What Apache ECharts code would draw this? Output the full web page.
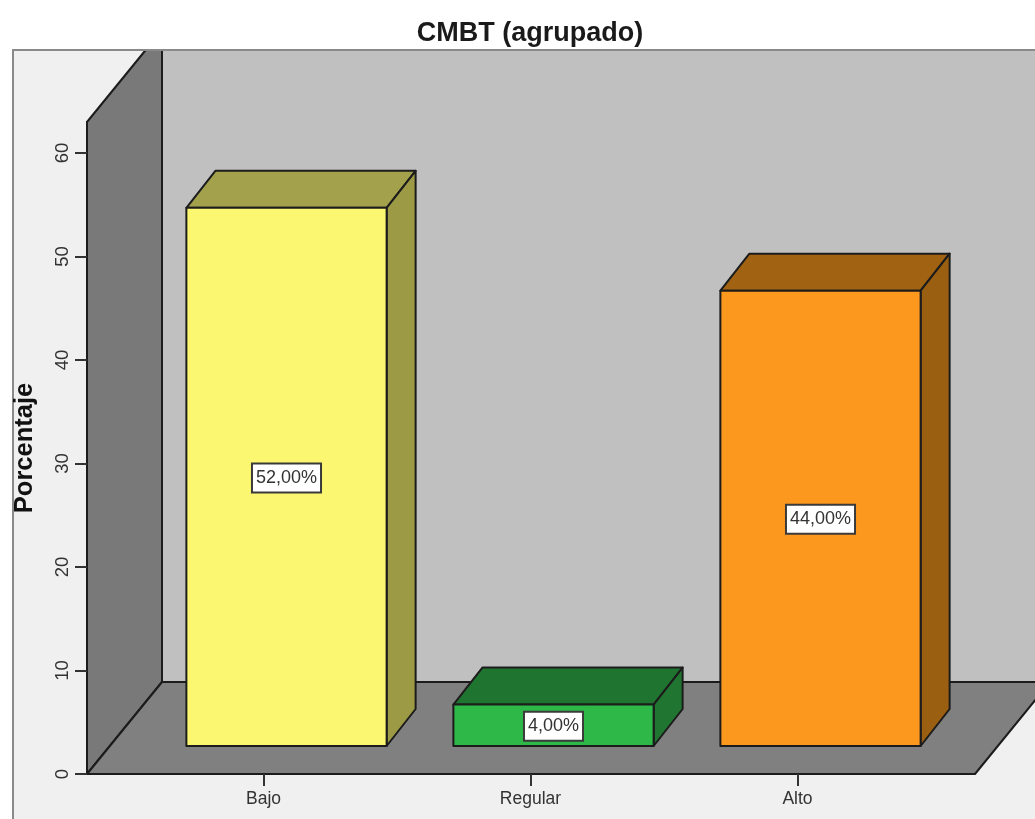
<!DOCTYPE html>
<html>
<head>
<meta charset="utf-8">
<title>CMBT (agrupado)</title>
<style>
    html, body { margin: 0; padding: 0; background: #fff; }
    #myChart { width: 1035px; height: 819px; }
</style>
<script src="https://cdn.jsdelivr.net/npm/echarts@6/dist/echarts.min.js"></script>
</head>
<body>
<div id="myChart"></div>
<script>
    var categories = ['Bajo', 'Regular', 'Alto'];
    var percentages = [52, 4, 44];
    var yTicks = [0, 10, 20, 30, 40, 50, 60];

    var frontColors = ['#fcf770', '#2eb848', '#fc981e'];
    var topColors = ['#a3a14c', '#1f7530', '#a16212'];
    var sideColors = ['#9c9a45', '#207630', '#9a5f10'];

    var lineColor = '#1c1c1c';
    var font = '"Liberation Sans", Arial, sans-serif';

    // 3d look: how far the floor goes back, and where the bars stand on it
    var floorDepth = [75, -92];
    var barOffset = [23, -28];
    var barDepth = [29, -37];

    function poly(points, fill) {
        return {
            type: 'polygon',
            shape: {points: points},
            style: {fill: fill, stroke: lineColor, lineWidth: 2, lineJoin: 'round'}
        };
    }

    function renderScene(params, api) {
        var left = api.coord([0, 0])[0] - api.size([1, 0])[0] / 2 - 43;
        var bottom = api.coord([0, 0])[1];
        var backX = left + floorDepth[0];
        var backY = bottom + floorDepth[1];
        var top = 50;
        var right = 1045;
        var frontRight = 975;
        var axisTop = api.coord([0, 63])[1];
        var slope = floorDepth[0] / -floorDepth[1];
        return {
            type: 'group',
            children: [
                // back wall
                poly([[backX, top], [right, top], [right, backY], [backX, backY]], '#c0c0c0'),
                // left wall
                poly([[left, bottom], [backX, backY], [backX, top], [left + (axisTop - top) * slope, top], [left, axisTop]], '#797979'),
                // floor
                poly([[left, bottom], [frontRight, bottom], [right, bottom - (right - frontRight) / slope], [right, backY], [backX, backY]], '#808080')
            ]
        };
    }

    function renderBar(params, api) {
        var i = api.value(0);
        var value = api.value(1);
        var width = api.size([1, 0])[0] * 0.75;
        var topPt = api.coord([i, value]);
        var basePt = api.coord([i, 0]);
        var x0 = topPt[0] + barOffset[0] - width / 2;
        var x1 = x0 + width;
        var y0 = topPt[1] + barOffset[1];
        var y1 = basePt[1] + barOffset[1];
        var dx = barDepth[0];
        var dy = barDepth[1];
        return {
            type: 'group',
            children: [
                poly([[x0, y0], [x0 + dx, y0 + dy], [x1 + dx, y0 + dy], [x1, y0]], topColors[i]),
                poly([[x1, y0], [x1 + dx, y0 + dy], [x1 + dx, y1 + dy], [x1, y1]], sideColors[i]),
                poly([[x0, y0], [x1, y0], [x1, y1], [x0, y1]], frontColors[i]),
                {
                    type: 'text',
                    z2: 10,
                    style: {
                        x: (x0 + x1) / 2,
                        y: (y0 + y1) / 2 + 1,
                        text: value.toFixed(2).replace('.', ',') + '%',
                        align: 'center',
                        verticalAlign: 'middle',
                        fill: '#333',
                        font: '18px ' + font,
                        backgroundColor: '#fff',
                        borderColor: '#3a3a3a',
                        borderWidth: 2,
                        padding: [5, 3, 4, 3]
                    }
                }
            ]
        };
    }

    var myChart = echarts.init(document.getElementById('myChart'));
    myChart.setOption({
        animation: false,
        backgroundColor: '#fff',
        title: {
            text: 'CMBT (agrupado)',
            left: 525,
            top: 15,
            textAlign: 'center',
            textStyle: {fontFamily: font, fontSize: 27, fontWeight: 'bold', color: '#1a1a1a'}
        },
        // panel behind the chart, open on the right; its top edge sits over the wall
        graphic: [{
            type: 'rect',
            z: -1,
            shape: {x: 13, y: 50, width: 1030, height: 780},
            style: {fill: '#f0f0f0'}
        }, {
            type: 'polyline',
            z: 3,
            shape: {points: [[13, 830], [13, 50], [1045, 50]]},
            style: {fill: null, stroke: '#8a8a8a', lineWidth: 2}
        }],
        grid: {left: 130, width: 801, top: 122, height: 652},
        xAxis: {
            type: 'category',
            data: categories,
            z: 5,
            axisLine: {show: false},
            axisTick: {show: true, alignWithLabel: true, length: 12, lineStyle: {color: '#333', width: 2}},
            axisLabel: {fontFamily: font, fontSize: 17.5, color: '#333', margin: 16}
        },
        yAxis: {
            type: 'value',
            min: 0,
            max: 63,
            interval: 10,
            offset: 43,
            z: 5,
            name: 'Porcentaje',
            nameLocation: 'middle',
            nameGap: 49,
            nameTextStyle: {fontFamily: font, fontSize: 25.5, fontWeight: 'bold', color: '#111'},
            splitLine: {show: false},
            axisLine: {show: true, lineStyle: {color: lineColor, width: 2}},
            axisTick: {show: true, length: 12, customValues: yTicks, lineStyle: {color: '#333', width: 2}},
            axisLabel: {fontFamily: font, fontSize: 18.5, color: '#333', rotate: 90, margin: 15, customValues: yTicks}
        },
        series: [{
            name: 'scene',
            type: 'custom',
            z: 1,
            clip: false,
            silent: true,
            renderItem: renderScene,
            data: [[0, 0]]
        }, {
            name: 'CMBT (agrupado)',
            type: 'custom',
            z: 2,
            clip: false,
            renderItem: renderBar,
            encode: {x: 0, y: 1},
            data: percentages.map(function (v, i) { return [i, v]; })
        }]
    });
</script>
</body>
</html>
